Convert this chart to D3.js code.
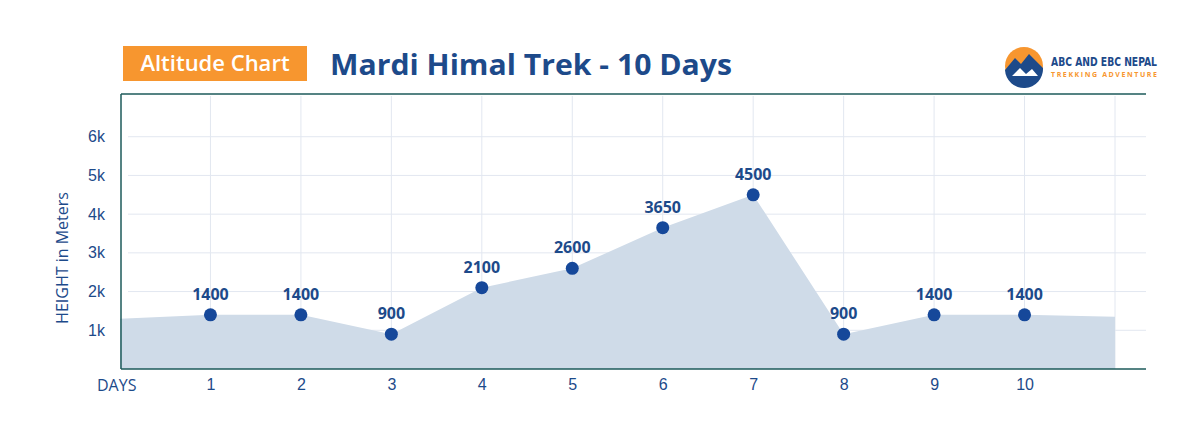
<!DOCTYPE html>
<html><head><meta charset="utf-8">
<script src="https://cdn.jsdelivr.net/npm/d3@7"></script>
<style>body{margin:0;background:#fff;font-family:"Open Sans",sans-serif}</style>
</head><body><svg id="chart" width="1201" height="433"></svg>
<script>
// data
var days = [1,2,3,4,5,6,7,8,9,10];
var heights = [1400,1400,900,2100,2600,3650,4500,900,1400,1400];
var areaDays = [0,1,2,3,4,5,6,7,8,9,10,11];
var areaHeights = [1300,1400,1400,900,2100,2600,3650,4500,900,1400,1400,1350];
var yTicks = [1000,2000,3000,4000,5000,6000];
var gridDays = [1,2,3,4,5,6,7,8,9,10,11];

var navy = '#1d4a8a', dot = '#16489a';
var svg = d3.select('#chart');
var x = d3.scaleLinear().domain([0,11]).range([120,1115]);
var y = d3.scaleLinear().domain([0,7000]).range([369,98]);

// title
svg.append('rect').attr('x',123).attr('y',46).attr('width',184).attr('height',35).attr('fill','#f7962f');
svg.append('text').attr('x',215).attr('y',71).attr('text-anchor','middle').attr('fill','#fff')
  .attr('font-size',22).attr('font-weight',600).text('Altitude Chart');
svg.append('text').attr('x',330).attr('y',75).attr('fill',navy).attr('font-size',29).attr('font-weight',700)
  .attr('textLength',402).attr('lengthAdjust','spacingAndGlyphs').text('Mardi Himal Trek - 10 Days');

// logo
var lg = svg.append('g').attr('transform','translate(1024,66)');
lg.append('circle').attr('r',19).attr('fill','#f7962f');
lg.append('path').attr('d','M-19,4 L-9,-8 L-3,-2 L5,-12 L19,2 A19,19 0 0 1 -19,4 Z').attr('fill','#1d4a8a');
lg.append('path').attr('d','M-12,10 L-4,2 L2,8 L8,3 L14,10 Z').attr('fill','#fff');
svg.append('text').attr('x',1051).attr('y',66).attr('fill',navy).attr('font-size',12).attr('font-weight',700)
  .attr('textLength',106).attr('lengthAdjust','spacingAndGlyphs')
  .attr('font-family','"DejaVu Sans Condensed", sans-serif').text('ABC AND EBC NEPAL');
svg.append('text').attr('x',1051).attr('y',77).attr('fill','#f7962f').attr('font-size',7).attr('font-weight',700)
  .attr('textLength',106).attr('lengthAdjust','spacing').text('TREKKING ADVENTURE');

// grid
svg.selectAll('.hg').data(yTicks).enter().append('line')
  .attr('x1',128).attr('x2',1146).attr('y1',function(d){return y(d);}).attr('y2',function(d){return y(d);})
  .attr('stroke','#e2e7f0');
svg.selectAll('.vg').data(gridDays).enter().append('line')
  .attr('x1',function(d){return x(d);}).attr('x2',function(d){return x(d);}).attr('y1',96).attr('y2',369)
  .attr('stroke','#e2e7f0');

// area
var area = d3.area().x(function(d,i){return x(areaDays[i]);}).y0(y(0)).y1(function(d){return y(d);});
svg.append('path').datum(areaHeights).attr('d',area).attr('fill','#cfdbe8');

// frame
svg.append('line').attr('x1',121).attr('x2',1146).attr('y1',94).attr('y2',94).attr('stroke','#1d5a5a').attr('stroke-width',1.5);
svg.append('line').attr('x1',121).attr('x2',121).attr('y1',94).attr('y2',369).attr('stroke','#1d5a5a').attr('stroke-width',1.5);
svg.append('line').attr('x1',121).attr('x2',1146).attr('y1',369).attr('y2',369).attr('stroke','#1d5a5a').attr('stroke-width',1.5);

// axes
var yAxis = svg.append('g').attr('transform','translate(108,0)')
  .call(d3.axisLeft(y).tickValues(yTicks).tickFormat(function(d){return (d/1000)+'k';}).tickSize(0));
yAxis.select('.domain').remove();
yAxis.selectAll('text').attr('fill',navy).attr('font-size',16);
var xAxis = svg.append('g').attr('transform','translate(0,376)')
  .call(d3.axisBottom(x).tickValues(days).tickFormat(d3.format('d')).tickSize(0));
xAxis.select('.domain').remove();
xAxis.selectAll('text').attr('fill',navy).attr('font-size',16).attr('dy','0.71em');
svg.append('text').attr('x',97).attr('y',391).attr('fill',navy).attr('font-size',16).text('DAYS');
svg.append('text').attr('transform','translate(68,258) rotate(-90)').attr('text-anchor','middle')
  .attr('fill',navy).attr('font-size',16).text('HEIGHT in Meters');

// points
svg.selectAll('.pt').data(heights).enter().append('circle')
  .attr('cx',function(d,i){return x(days[i]);}).attr('cy',function(d){return y(d);}).attr('r',6.5).attr('fill',dot);
svg.selectAll('.lb').data(heights).enter().append('text')
  .attr('x',function(d,i){return x(days[i]);}).attr('y',function(d){return y(d)-15;})
  .attr('text-anchor','middle').attr('fill',navy).attr('font-size',16).attr('font-weight',700).text(function(d){return d;});
</script></body></html>
